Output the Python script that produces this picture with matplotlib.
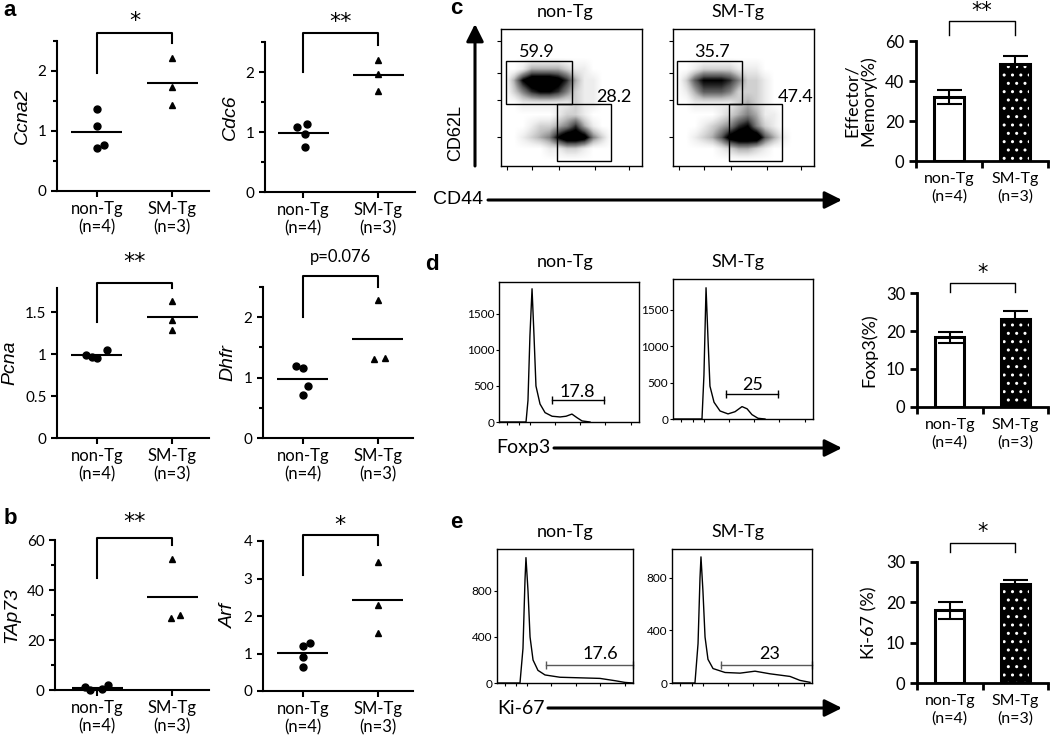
import matplotlib.pyplot as plt
import numpy as np
from matplotlib.patches import Rectangle

plt.rcParams['font.family'] = ['Lato', 'DejaVu Sans']

W, H = 1050, 744

groups = ['non-Tg\n(n=4)', 'SM-Tg\n(n=3)']

# a / b: relative mRNA expression (circles = non-Tg, triangles = SM-Tg)
ccna2_non = [1.37, 1.08, 0.77, 0.72]
ccna2_sm = [2.21, 1.73, 1.44]
cdc6_non = [1.14, 1.09, 0.97, 0.75]
cdc6_sm = [2.20, 1.96, 1.68]
pcna_non = [0.99, 0.96, 0.97, 1.05]
pcna_sm = [1.64, 1.41, 1.29]
dhfr_non = [1.19, 1.16, 0.86, 0.71]
dhfr_sm = [2.28, 1.31, 1.33]
tap73_non = [1.3, 0.2, 0.4, 2.0]
tap73_sm = [52.3, 28.9, 30.0]
arf_non = [1.27, 1.20, 0.92, 0.63]
arf_sm = [3.45, 2.29, 1.54]

# c-e: bar charts (mean, s.e.m.)
effmem_mean = [32.0, 48.5]
effmem_err = [3.6, 4.0]
foxp3_mean = [18.3, 23.1]
foxp3_err = [1.4, 2.2]
ki67_mean = [18.0, 24.5]
ki67_err = [2.1, 1.0]

# c: CD62L vs CD44 dot-plot density (rows top->bottom, 0-9)
cd_non = ["0000000000000000",
          "0000000000000000",
          "0000000000000000",
          "0013333211000000",
          "0379998631100000",
          "0246776421100000",
          "0011111121100000",
          "0000001221000000",
          "0001223463100000",
          "0012347998420000",
          "0000011221000000",
          "0000000000000000"]
cd_sm = ["0000000000000000",
         "0000000000000000",
         "0000000000000000",
         "0012222111000000",
         "0257776422100000",
         "0135554222100000",
         "0011111232100000",
         "0000012343110000",
         "0001234674210000",
         "0012358999531000",
         "0000012332100000",
         "0000000000000000"]
cd_gates = ['59.9', '28.2', '35.7', '47.4']

# d: Foxp3 histograms (channel 0-100, cell count)
foxp3_non_ch = [0, 19.3, 20.7, 22.1, 23.6, 25.0, 26.4, 29.3, 32.9, 37.9, 43.6, 47.9, 52.1, 55.7, 59.3, 65.0]
foxp3_non_ct = [0, 0, 300, 1200, 1850, 1200, 500, 250, 130, 80, 70, 80, 110, 60, 15, 0]
foxp3_sm_ch = [0, 20.7, 22.1, 23.6, 25.0, 26.4, 29.3, 33.6, 39.3, 44.3, 49.3, 52.9, 56.4, 60.7, 65.7]
foxp3_sm_ct = [0, 0, 600, 1800, 1100, 450, 230, 110, 70, 100, 170, 140, 60, 10, 0]

# e: Ki-67 histograms
ki67_non_ch = [0, 16.9, 19.1, 20.6, 21.3, 22.8, 24.3, 26.5, 30.1, 35.3, 46.3, 61.0, 75.7, 86.8, 94.1, 100]
ki67_non_ct = [0, 0, 300, 900, 1090, 800, 400, 200, 110, 70, 50, 45, 40, 20, 5, 0]
ki67_sm_ch = [0, 16.4, 18.6, 20.0, 20.7, 22.1, 23.6, 25.7, 29.3, 37.9, 48.6, 59.3, 70.0, 84.3, 91.4, 98.6]
ki67_sm_ct = [0, 0, 300, 800, 960, 700, 350, 180, 110, 80, 75, 90, 70, 50, 20, 5]

fig = plt.figure(figsize=(10.5, 7.44), dpi=100)


def box(l, t, r, b):
    return [l / W, 1 - b / H, (r - l) / W, (b - t) / H]


def fp(x, y):
    return (x / W, 1 - y / H)


def style(ax, lw=1.5):
    for s in ('top', 'right'):
        ax.spines[s].set_visible(False)
    for s in ('left', 'bottom'):
        ax.spines[s].set_linewidth(lw)
    ax.tick_params(width=lw, length=4, labelsize=11)
    ax.tick_params(which='minor', width=lw, length=3)


def bracket(ax, yl, yt, yr, txt, ty, lw=1.5, fs=15, x0=0, x1=1):
    ax.plot([x0, x0, x1, x1], [yl, yt, yt, yr], color='k', lw=lw, clip_on=False)
    fam = 'DejaVu Sans' if '*' in txt else None
    ax.text((x0 + x1) / 2, ty, txt, ha='center', va='center', fontsize=fs,
            family=fam, clip_on=False)


def dot_panel(rect, xlim, gene, non, sm, ymax, yt, ytl, minor, br, txt, dn, ds):
    ax = fig.add_axes(box(*rect))
    style(ax)
    ax.set_xlim(*xlim)
    ax.set_ylim(0, ymax)
    ax.plot(np.array(dn), non, 'o', color='k', ms=5, clip_on=False)
    ax.plot(1 + np.array(ds), sm, '^', color='k', ms=5, clip_on=False)
    for i, v in enumerate([non, sm]):
        ax.hlines(np.mean(v), i - 0.34, i + 0.34, color='k', lw=1.5)
    ax.set_xticks([0, 1], groups, fontsize=12, linespacing=1.15)
    ax.set_yticks(yt, ytl)
    ax.set_yticks(minor, minor=True)
    ax.set_ylabel(gene, style='italic', fontsize=14, family='Liberation Sans', labelpad=5)
    bracket(ax, *br[:3], txt, br[3], fs=16 if '*' in txt else 12)
    return ax


# ---- panel a ----
dot_panel((57, 41, 209, 191), (-0.53, 1.49), 'Ccna2', ccna2_non, ccna2_sm, 2.5,
          [0, 1, 2], ['0', '1', '2'], [0.5, 1.5, 2.5], (1.97, 2.63, 2.47, 2.83), '*',
          [0, 0, 0.09, 0], [0, 0, 0])
dot_panel((265, 42, 415, 192), (-0.51, 1.49), 'Cdc6', cdc6_non, cdc6_sm, 2.5,
          [0, 1, 2], ['0', '1', '2'], [0.5, 1.5, 2.5], (2.0, 2.65, 2.45, 2.83), '**',
          [0.05, -0.08, 0.02, 0.02], [0, 0, 0])
dot_panel((57, 288, 209, 438), (-0.53, 1.49), 'Pcna', pcna_non, pcna_sm, 1.79,
          [0, 0.5, 1, 1.5], ['0', '0.5', '1', '1.5'], [], (1.38, 1.85, 1.79, 2.1), '**',
          [-0.15, 0.0, -0.06, 0.13], [0, 0, 0])
dot_panel((263, 287, 413, 438), (-0.53, 1.47), 'Dhfr', dhfr_non, dhfr_sm, 2.5,
          [0, 1, 2], ['0', '1', '2'], [0.5, 1.5, 2.5], (2.0, 2.68, 2.5, 3.0), 'p=0.076',
          [-0.09, 0.0, 0.07, 0.0], [0, -0.05, 0.1])

# ---- panel b ----
dot_panel((55, 540, 209, 690), (-0.56, 1.49), 'TAp73', tap73_non, tap73_sm, 60,
          [0, 20, 40, 60], ['0', '20', '40', '60'], [10, 30, 50], (45, 61, 58, 67), '**',
          [-0.16, -0.09, 0.07, 0.14], [0, -0.02, 0.1])
dot_panel((263, 541, 413, 691), (-0.53, 1.47), 'Arf', arf_non, arf_sm, 4,
          [0, 1, 2, 3, 4], ['0', '1', '2', '3', '4'], [], (3.1, 4.15, 3.9, 4.42), '*',
          [0.09, 0.0, 0.0, 0.0], [0, 0, 0])


# ---- bar charts ----
def bar_panel(rect, ylabel, means, errs, ymax, yt, br, txt):
    ax = fig.add_axes(box(*rect))
    style(ax, lw=2)
    ax.set_xlim(-0.5, 1.5)
    ax.set_ylim(0, ymax)
    ax.bar(0, means[0], 0.44, color='white', edgecolor='k', lw=2.2, zorder=2)
    ax.bar(1, means[1], 0.44, color='k', edgecolor='white', hatch='..', lw=0, zorder=2)
    ax.bar(1, means[1], 0.44, fill=False, edgecolor='k', lw=2.2, zorder=3)
    ax.errorbar([0, 1], means, yerr=errs, fmt='none', ecolor='k', elinewidth=1.5,
                capsize=9, capthick=1.5, zorder=4)
    ax.set_xticks([-0.5, 0.5, 1.5], ['', '', ''])
    ax.set_xticks([0, 1], groups, minor=True, fontsize=11.5, linespacing=1.25)
    ax.tick_params(axis='x', which='minor', length=0, pad=8)
    ax.tick_params(axis='x', which='major', length=5, width=2)
    ax.set_yticks(yt)
    ax.tick_params(axis='y', labelsize=12, length=5, width=2)
    ax.set_ylabel(ylabel, fontsize=13, linespacing=1.0, labelpad=6)
    bracket(ax, *br[:3], txt, br[3], lw=1, fs=15)
    return ax


bar_panel((916, 41, 1048, 161), 'Effector/\nMemory(%)', effmem_mean, effmem_err, 60,
          [0, 20, 40, 60], (63, 70, 63, 75), '**')
bar_panel((917, 293, 1048, 407), 'Foxp3(%)', foxp3_mean, foxp3_err, 30,
          [0, 10, 20, 30], (30.3, 32.6, 30.3, 35.2), '*')
bar_panel((917, 562, 1048, 683), 'Ki-67 (%)', ki67_mean, ki67_err, 30,
          [0, 10, 20, 30], (32.5, 34.7, 32.5, 37.5), '*')


# ---- flow dot plots (c) ----
def flow_frame(ax, lw=1):
    for s in ax.spines.values():
        s.set_linewidth(lw)
    ax.tick_params(labelbottom=False, labelleft=False, length=3, width=0.8)


def dot_plot(rect, grid, gates, labels):
    ax = fig.add_axes(box(*rect))
    dens = np.array([[int(c) for c in row] for row in grid], dtype=float)
    ax.imshow(dens, cmap='Greys', vmin=0, vmax=7, extent=(0, 1, 0, 1), aspect='auto',
              interpolation='bilinear')
    ax.set_xlim(0, 1)
    ax.set_ylim(0, 1)
    for (x0, y0, x1, y1) in gates:
        ax.add_patch(Rectangle((x0, y0), x1 - x0, y1 - y0, fill=False, ec='k', lw=1))
    for (x, y, t) in labels:
        ax.text(x, y, t, ha='center', va='center', fontsize=13)
    ax.set_xticks([0.04, 0.22, 0.41, 0.67, 0.91])
    ax.set_yticks([0.21, 0.48, 0.68, 0.91])
    flow_frame(ax)


dot_plot((501, 29, 642, 166), cd_non, [(0.035, 0.45, 0.50, 0.766), (0.40, 0.04, 0.78, 0.45)],
         [(0.255, 0.83, cd_gates[0]), (0.80, 0.50, cd_gates[1])])
dot_plot((673, 29, 814, 166), cd_sm, [(0.03, 0.45, 0.49, 0.766), (0.40, 0.04, 0.77, 0.45)],
         [(0.277, 0.83, cd_gates[2]), (0.87, 0.50, cd_gates[3])])


# ---- flow histograms (d, e) ----
def hist_plot(rect, ch, ct, ymax, yt, gate, lab, gcol='k'):
    ax = fig.add_axes(box(*rect))
    ax.plot(ch, ct, color='k', lw=1)
    ax.set_xlim(0, 100)
    ax.set_ylim(0, ymax)
    g0, g1, gy = gate
    ax.plot([g0, g1], [gy, gy], color=gcol, lw=1, clip_on=False)
    ax.plot([g0, g1], [gy, gy], '|', color=gcol, ms=6, mew=1, clip_on=False)
    ax.text(lab[0], lab[1], lab[2], ha='center', va='center', fontsize=13)
    for s in ax.spines.values():
        s.set_linewidth(1)
    ax.set_xticks([6, 14, 22, 40, 58, 76, 94], [''] * 7)
    ax.set_yticks(yt)
    ax.tick_params(length=2.5, width=0.8, labelsize=8.5, pad=1)
    return ax


hist_plot((499, 282, 639, 422), foxp3_non_ch, foxp3_non_ct, 1944, [0, 500, 1000, 1500],
          (37.5, 75, 300), (56, 420, '17.8'))
hist_plot((673, 279, 813, 419), foxp3_sm_ch, foxp3_sm_ct, 1920, [0, 500, 1000, 1500],
          (38, 75, 345), (57, 470, '25'))
hist_plot((497, 549, 633, 683), ki67_non_ch, ki67_non_ct, 1165, [0, 400, 800],
          (36, 100, 157), (76, 255, '17.6'), gcol='0.35')
hist_plot((672, 549, 812, 683), ki67_sm_ch, ki67_sm_ct, 1020, [0, 400, 800],
          (35, 100, 137), (70, 222, '23'), gcol='0.35')

# ---- titles, axis arrows, panel letters ----
for cy in (12, 262, 532):
    fig.text(*fp(565, cy), 'non-Tg', ha='center', va='center', fontsize=13)
    fig.text(*fp(738, cy), 'SM-Tg', ha='center', va='center', fontsize=13)

arrow = dict(arrowstyle='-|>', lw=2.2, color='k', mutation_scale=26, shrinkA=0, shrinkB=0)
plt.annotate('', xy=fp(475, 24), xytext=fp(475, 166), xycoords='figure fraction',
             textcoords='figure fraction', arrowprops=arrow)
fig.text(*fp(456, 133), 'CD62L', rotation=90, ha='center', va='center', fontsize=13,
         family='Liberation Sans')
for lab, x0, x1, y in [('CD44', 458, 488, 200), ('Foxp3', 523, 554, 448), ('Ki-67', 521, 548, 708)]:
    fig.text(*fp(x0, y), lab, ha='center', va='center', fontsize=14,
             family='Liberation Sans' if lab == 'CD44' else None)
    plt.annotate('', xy=fp(842, y), xytext=fp(x1, y), xycoords='figure fraction',
                 textcoords='figure fraction', arrowprops=arrow)

for lab, x, y in [('a', 10, 10), ('b', 10, 518), ('c', 456, 9), ('d', 432, 265), ('e', 456, 523)]:
    fig.text(*fp(x, y), lab, ha='center', va='center', fontsize=16, fontweight='bold',
             family='Liberation Sans')

fig.savefig('out.png', dpi=100)
